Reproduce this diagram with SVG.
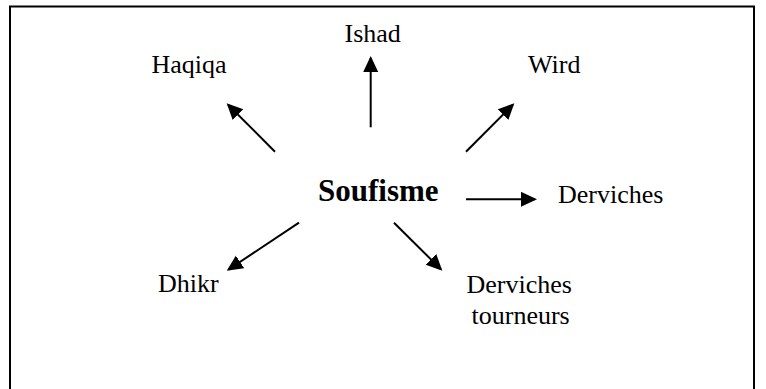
<svg xmlns="http://www.w3.org/2000/svg" width="766" height="389" viewBox="0 0 766 389">
  <style>
    .lbl { font-family: "Liberation Serif", "Times New Roman", serif; font-size: 26px; fill: #000; }
    .main { font-family: "Liberation Serif", "Times New Roman", serif; font-size: 31px; font-weight: bold; fill: #000; }
    .conn { stroke: #000; stroke-width: 2; fill: none; marker-end: url(#arrow); }
  </style>
  <defs>
    <marker id="arrow" markerUnits="userSpaceOnUse" markerWidth="16" markerHeight="16" refX="14" refY="7.5" orient="auto">
      <path d="M0,0 L16,7.5 L0,15 z" fill="#000"/>
    </marker>
  </defs>
  <rect x="10" y="6.5" width="744" height="400" fill="#fff" stroke="#000" stroke-width="2"/>
  <g id="connectors">
    <line class="conn" x1="275" y1="151.7" x2="228.1" y2="104.7"/>
    <line class="conn" x1="370.7" y1="127.3" x2="370.7" y2="58"/>
    <line class="conn" x1="466" y1="151.7" x2="512.9" y2="104.7"/>
    <line class="conn" x1="466" y1="199.3" x2="535" y2="199.3"/>
    <line class="conn" x1="299" y1="222.7" x2="228.4" y2="269.6"/>
    <line class="conn" x1="394" y1="222.7" x2="440.9" y2="269.3"/>
  </g>
  <g id="soufisme"><text class="main" x="318" y="201">Soufisme</text></g>
  <g id="haqiqa"><text class="lbl" x="151.5" y="72.7">Haqiqa</text></g>
  <g id="ishad"><text class="lbl" x="344.5" y="42">Ishad</text></g>
  <g id="wird"><text class="lbl" x="528" y="72.7">Wird</text></g>
  <g id="derviches"><text class="lbl" x="558" y="203.3">Derviches</text></g>
  <g id="dhikr"><text class="lbl" x="158" y="291.7">Dhikr</text></g>
  <g id="derviches-tourneurs">
    <text class="lbl" x="466.5" y="293.3">Derviches</text>
    <text class="lbl" x="471.5" y="324">tourneurs</text>
  </g>
</svg>
